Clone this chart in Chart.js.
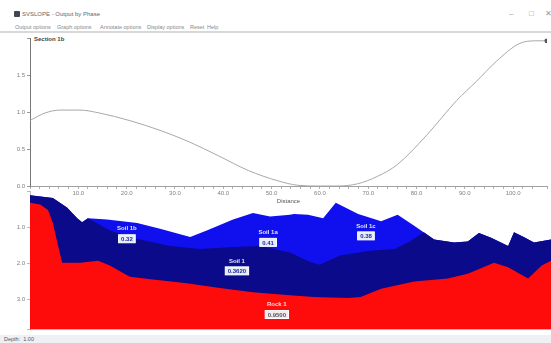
<!DOCTYPE html>
<html>
<head>
<meta charset="utf-8">
<script src="https://cdn.jsdelivr.net/npm/chart.js@4/dist/chart.umd.min.js"></script>
<style>
  html, body { margin: 0; padding: 0; background: #fff; width: 551px; height: 343px; overflow: hidden;
               font-family: "Liberation Sans", Arial, sans-serif; }
  .abs { position: absolute; }
  #titlebar { left: 0; top: 0; width: 551px; height: 21px; background: #fff; }
  #titletext { left: 22px; top: 11px; font-size: 6px; color: #666; white-space: nowrap; }
  #icon { left: 14px; top: 11px; width: 6px; height: 6px; background: #445; border-radius: 1px; }
  .ctl { top: 9px; font-size: 8px; color: #999; }
  .mi { top: 24px; font-size: 5.5px; color: #888; white-space: nowrap; }
  #sep { left: 0; top: 31px; width: 551px; height: 2px; background: #d8d8d8; }
  #section { left: 34px; top: 36px; font-size: 6px; color: #444; font-weight: bold; white-space: nowrap; }
  #topChart { left: 0; top: 33px; z-index: 3; }
  #botChart { left: 0; top: 186px; z-index: 1; }
  #status { left: 0; top: 335px; width: 551px; height: 8px; background: #eef0f4; z-index: 4; }
  #statustext { left: 4px; top: 336px; font-size: 5.5px; color: #556; z-index: 5; white-space: nowrap; }
</style>
</head>
<body>
<div id="titlebar" class="abs"></div>
<div id="icon" class="abs"></div>
<div id="titletext" class="abs">SVSLOPE - Output by Phase</div>
<div class="abs ctl" style="left:509px">&#8211;</div>
<div class="abs ctl" style="left:529px">&#9633;</div>
<div class="abs ctl" style="left:545px">&#10005;</div>
<div class="abs mi" style="left:15px">Output options</div>
<div class="abs mi" style="left:57px">Graph options</div>
<div class="abs mi" style="left:100px">Annotate options</div>
<div class="abs mi" style="left:147px">Display options</div>
<div class="abs mi" style="left:190px">Reset</div>
<div class="abs mi" style="left:207px">Help</div>
<div id="sep" class="abs"></div>
<canvas id="botChart" class="abs" width="551" height="149"></canvas>
<canvas id="topChart" class="abs" width="551" height="172"></canvas>
<div id="section" class="abs">Section 1b</div>
<div id="status" class="abs"></div>
<div id="statustext" class="abs">Depth:&nbsp;&nbsp;1.00</div>

<script>
// ---- Profile along the section (distance in m) ----
const fsDistance = [0, 3.1, 6.2, 10.3, 14.4, 20.5, 26.7, 32.9, 39.0, 45.2, 51.3, 55.4, 59.5, 63.7, 67.8, 71.9, 76.0, 82.1, 88.3, 92.4, 96.5, 101.2, 104.7, 107.0];
const fsValue    = [0.89, 0.99, 1.03, 1.03, 0.99, 0.89, 0.76, 0.60, 0.41, 0.21, 0.07, 0.01, 0.0, 0.0, 0.03, 0.13, 0.29, 0.69, 1.16, 1.42, 1.69, 1.93, 1.97, 1.97];

// ---- Layer boundaries (depth below reference) ----
const surfaceX     = [0, 4.7, 7.6, 9.7, 10.7, 11.9, 15.8, 22.0, 26.7, 32.9, 36.3, 41.7, 45.8, 49.3, 53.4, 54.2, 57.1, 60.2, 62.8, 67.4, 72.1, 75.5, 78.9, 83.0, 87.1, 89.9, 92.2, 94.7, 98.2, 99.4, 101.4, 103.5, 107.0];
const surfaceDepth = [0.10, 0.18, 0.44, 0.74, 0.85, 0.74, 0.77, 0.87, 1.03, 1.26, 1.08, 0.77, 0.59, 0.69, 0.64, 0.62, 0.64, 0.74, 0.31, 0.62, 0.82, 0.64, 0.95, 1.33, 1.41, 1.38, 1.15, 1.28, 1.51, 1.13, 1.26, 1.41, 1.33];

// base of the upper soil lens (top of Soil 1)
const lensX     = [11.9, 16.4, 22.6, 28.7, 34.9, 41.1, 47.2, 53.4, 57.5, 59.5, 63.7, 69.8, 74.9, 78.0, 80.9];
const lensDepth = [0.74, 1.08, 1.33, 1.51, 1.59, 1.54, 1.51, 1.69, 1.95, 2.03, 1.77, 1.64, 1.59, 1.38, 1.13];

// top of rock
const rockX     = [0, 2.1, 3.7, 4.7, 5.7, 6.6, 10.3, 14.0, 16.4, 20.5, 25.3, 32.2, 39.0, 45.8, 53.4, 58.3, 65.3, 67.9, 72.1, 78.9, 85.8, 89.9, 95.3, 98.2, 102.3, 105.1, 107.0];
const rockDepth = [0.31, 0.36, 0.51, 0.87, 1.46, 1.97, 1.97, 1.92, 2.05, 2.36, 2.44, 2.54, 2.67, 2.79, 2.87, 2.92, 2.95, 2.92, 2.69, 2.49, 2.41, 2.28, 1.97, 2.10, 2.41, 2.05, 1.92];

// ---- Material annotations ----
const matNames  = ['Soil 1b', 'Soil 1a', 'Soil 1c', 'Soil 1', 'Rock 1'];
const matValues = ['0.32', '0.41', '0.38', '0.3620', '0.9500'];
const matX      = [19.9, 48.9, 69.0, 42.5, 50.7];
const matDepth  = [1.03, 1.13, 0.95, 1.92, 3.13];

const xMax = 107;

const zip = (xs, ys) => xs.map((x, i) => ({ x, y: ys[i] }));
const surface = zip(surfaceX, surfaceDepth);
const lens = zip(lensX, lensDepth);
const soilTop = surface.filter(p => p.x < lensX[0])
  .concat(lens, surface.filter(p => p.x > lensX[lensX.length - 1]));
const rockTop = zip(rockX, rockDepth);

const tinyFont = { family: 'Liberation Sans', size: 6 };

// ---- Upper chart: value along the section ----
new Chart(document.getElementById('topChart'), {
  type: 'line',
  data: {
    datasets: [{
      data: zip(fsDistance, fsValue),
      borderColor: '#a8a8a8',
      borderWidth: 1,
      cubicInterpolationMode: 'monotone',
      pointRadius: ctx => (ctx.dataIndex === fsDistance.length - 1 ? 2.5 : 0),
      pointBackgroundColor: '#555',
      pointBorderWidth: 0,
      fill: false
    }]
  },
  options: {
    responsive: false,
    animation: false,
    layout: { padding: { left: 0, right: 0, top: 0, bottom: 0 } },
    plugins: { legend: { display: false }, tooltip: { enabled: false } },
    scales: {
      x: {
        type: 'linear', min: 0, max: xMax,
        ticks: {
          stepSize: 2, autoSkip: false, maxRotation: 0, padding: 1,
          font: tinyFont, color: '#808080',
          callback: v => (v > 0 && v % 10 === 0 ? v.toFixed(1) : '')
        },
        grid: { drawOnChartArea: false, tickLength: 3, color: '#b0b0b0' },
        border: { color: '#a0a0a0', width: 1 },
        title: { display: true, text: 'Distance', font: tinyFont, color: '#555', padding: 0 },
        afterFit: s => { s.height = 19; }
      },
      y: {
        min: 0, max: 2,
        ticks: {
          stepSize: 0.5, font: tinyFont, color: '#808080', padding: 2,
          callback: v => (v < 2 ? v.toFixed(1) : '')
        },
        grid: { drawOnChartArea: false, tickLength: 3, color: '#999' },
        border: { color: '#777', width: 1 },
        afterFit: s => { s.width = 30; }
      }
    }
  }
});

// ---- Lower chart: layered section ----
const materialLabels = {
  id: 'materialLabels',
  afterDatasetsDraw(chart) {
    const { ctx, scales: { x, y } } = chart;
    ctx.save();
    ctx.textAlign = 'center';
    ctx.textBaseline = 'middle';
    matNames.forEach((name, i) => {
      const px = x.getPixelForValue(matX[i]);
      const py = y.getPixelForValue(matDepth[i]);
      const isRock = name.startsWith('Rock');
      ctx.font = 'bold 6px "Liberation Sans"';
      ctx.fillStyle = isRock ? '#ffd6d6' : '#dfe6ff';
      ctx.fillText(name, px, py);
      const w = ctx.measureText(matValues[i]).width + 5;
      const by = py + 10;
      ctx.fillStyle = isRock ? '#f2ecea' : '#e6ecfb';
      ctx.fillRect(px - w / 2, by - 4, w, 8);
      ctx.strokeStyle = '#ffffff';
      ctx.lineWidth = 1;
      ctx.strokeRect(px - w / 2, by - 4, w, 8);
      ctx.fillStyle = isRock ? '#556' : '#1a2a9a';
      ctx.fillText(matValues[i], px, by + 0.5);
    });
    ctx.restore();
  }
};

// each layer is filled from its top boundary down to the base of the section
const layer = (data, color) => ({
  data,
  backgroundColor: color,
  borderColor: 'rgba(0,0,0,0)',
  borderWidth: 0,
  pointRadius: 0,
  tension: 0,
  fill: 'start'
});

new Chart(document.getElementById('botChart'), {
  type: 'line',
  data: {
    datasets: [
      layer(rockTop, '#fe0b0b'),
      layer(soilTop, '#0a0a8a'),
      layer(surface, '#1010ee')
    ]
  },
  options: {
    responsive: false,
    animation: false,
    layout: { padding: 0 },
    plugins: { legend: { display: false }, tooltip: { enabled: false } },
    scales: {
      x: { type: 'linear', min: 0, max: xMax, display: false },
      y: {
        reverse: true, min: 0, max: 3.82,
        ticks: {
          stepSize: 1, font: tinyFont, color: '#808080', padding: 2,
          callback: v => (Number.isInteger(v) && v > 0 ? v.toFixed(1) : '')
        },
        grid: { drawOnChartArea: false, tickLength: 3, color: '#bbb' },
        border: { color: '#bbb', width: 1 },
        afterFit: s => { s.width = 30; }
      }
    }
  },
  plugins: [materialLabels]
});
</script>
</body>
</html>
